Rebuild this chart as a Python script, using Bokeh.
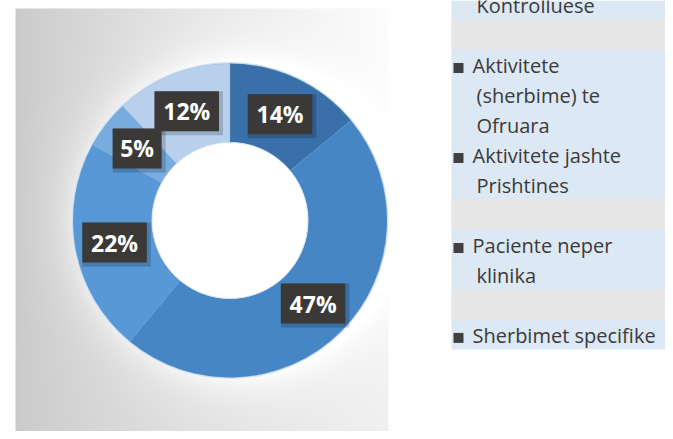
import numpy as np
from bokeh.plotting import figure
from bokeh.models import Range1d, ColumnDataSource
from bokeh.embed import file_html
from bokeh.resources import INLINE
from bokeh.core.properties import value

# ---------------- data ----------------
categories = ["Kontrolluese",
              "Aktivitete (sherbime) te Ofruara",
              "Aktivitete jashte Prishtines",
              "Paciente neper klinika",
              "Sherbimet specifike"]
values = [14, 47, 22, 5, 12]
slice_colors = ["#3a70aa", "#4686c4", "#5898d6", "#78acde", "#b8d0ec"]
legend_lines = [["Kontrolluese"],
                ["Aktivitete", "(sherbime) te", "Ofruara"],
                ["Aktivitete jashte", "Prishtines"],
                ["Paciente neper", "klinika"],
                ["Sherbimet specifike"]]
legend_gap_after = [1, 0, 1, 1, 0]
legend_marker_visible = [False, True, True, True, True]

# ---------------- layout ----------------
W, H = 665, 431
def fy(page_y):
    return H - page_y

CX, CY = 229.5, fy(220)
R_OUT, R_IN = 157, 78
PANEL_L, PANEL_R, PANEL_T, PANEL_B = 15, 388, 8, 431
LEG_L, LEG_R = 451, 665
LINE0, LINE_H = 12.7, 30.0
TEXT_SHIFT = 8.0   # compensation for baseline rendering

p = figure(width=W, height=H, x_range=Range1d(0, W), y_range=Range1d(0, H),
           output_backend="svg", toolbar_location=None, min_border=0)
p.axis.visible = False
p.grid.visible = False
p.outline_line_color = None
p.background_fill_color = "white"
p.border_fill_color = "white"

# ---- background panel (gradient image) ----
nx, ny = PANEL_R - PANEL_L, PANEL_B - PANEL_T
xs = PANEL_L + np.arange(nx) + 0.5
ys_page = PANEL_B - np.arange(ny) - 0.5          # row 0 at bottom
X, Yp = np.meshgrid(xs, ys_page)
tx = (X - PANEL_L) / nx
ty = (Yp - PANEL_T) / 430.0
lev = 0.79 + 0.15 * tx ** 0.75 + 0.05 * (1 - ty) * tx
d = np.hypot(X - CX, Yp - 220)
lev = lev + 0.09 * np.exp(-np.clip(d - R_OUT, 0, None) / 22.0) * (d > R_OUT)
lev = np.clip(lev, 0, 1)
g = (lev * 255).astype(np.uint32)
img = np.zeros((ny, nx), dtype=np.uint32)
view = img.view(dtype=np.uint8).reshape((ny, nx, 4))
view[:, :, 0] = g
view[:, :, 1] = g
view[:, :, 2] = g
view[:, :, 3] = 255
p.image_rgba(image=[img], x=PANEL_L, y=fy(PANEL_B), dw=nx, dh=ny)

# ---- donut ----
vals = np.array(values, dtype=float)
frac = vals / vals.sum()
cum_end = np.cumsum(frac)
cum_start = cum_end - frac
start_ang = np.pi / 2 - 2 * np.pi * cum_start
end_ang = np.pi / 2 - 2 * np.pi * cum_end
src = ColumnDataSource(dict(start=start_ang, end=end_ang, color=slice_colors,
                            cat=categories))
p.circle(x=CX, y=CY, radius=R_OUT + 1.5, fill_color="#d6e4f3", line_color=None)
p.annular_wedge(x=CX, y=CY, inner_radius=R_IN, outer_radius=R_OUT,
                start_angle="start", end_angle="end", direction="clock",
                fill_color="color", line_color="#6d9fd2", line_alpha=0.3,
                line_width=0.8, source=src)
p.circle(x=CX, y=CY, radius=R_IN, fill_color="white", line_color="#d6e4f3",
         line_width=1)

# ---- data labels ----
mid = (cum_start + cum_end) / 2
r_mid = (R_IN + R_OUT) / 2
lx = CX + r_mid * np.sin(2 * np.pi * mid)
ly = CY + r_mid * np.cos(2 * np.pi * mid)
labels = [f"{v}%" for v in values]
bw = [18 + 15.5 * len(t) for t in labels]
lsrc = ColumnDataSource(dict(x=lx, y=ly, xs=lx + 2, ys=ly - 2, t=labels, w=bw,
                             ws=[b + 4 for b in bw]))
p.rect(x="xs", y="ys", width="ws", height=44, source=lsrc,
       fill_color="black", fill_alpha=0.18, line_color=None)
p.rect(x="x", y="y", width="w", height=40, source=lsrc,
       fill_color="#3a3937", line_color=None)
p.text(x="x", y="y", text="t", source=lsrc, text_align="center",
       text_baseline="middle", text_font=value("Open Sans"),
       text_font_style="bold", text_font_size="23px", text_color="white")

# ---- legend ----
line_texts, line_x, line_base, mark_y = [], [], [], []
gap_top, gap_bot = [], []
k = 0
for i, lines in enumerate(legend_lines):
    for j, t in enumerate(lines):
        base = LINE0 + k * LINE_H
        line_texts.append(t)
        line_x.append(472 if j == 0 and legend_marker_visible[i] else 476)
        line_base.append(fy(base - TEXT_SHIFT))
        if j == 0 and legend_marker_visible[i]:
            mark_y.append(fy(base - 5.3))
        k += 1
    for _ in range(legend_gap_after[i]):
        base = LINE0 + k * LINE_H
        gap_top.append(fy(base - 23.7)); gap_bot.append(fy(base + 6.3))
        k += 1
leg_bottom = LINE0 + (k - 1) * LINE_H + 6.3
p.quad(left=LEG_L, right=LEG_R, top=H, bottom=fy(leg_bottom),
       fill_color="#dde8f5", line_color=None)
p.quad(left=LEG_L, right=LEG_R, top=gap_top, bottom=gap_bot,
       fill_color="#e6e6e6", line_color=None)
p.rect(x=[458] * len(mark_y), y=mark_y, width=10, height=10,
       fill_color="#404040", line_color=None)
p.text(x=line_x, y=line_base, text=line_texts, text_align="left",
       text_baseline="alphabetic", text_font=value("Open Sans"),
       text_font_size="20px", text_color="#3a3a3a")

open("out.html", "w").write(file_html(p, INLINE))
